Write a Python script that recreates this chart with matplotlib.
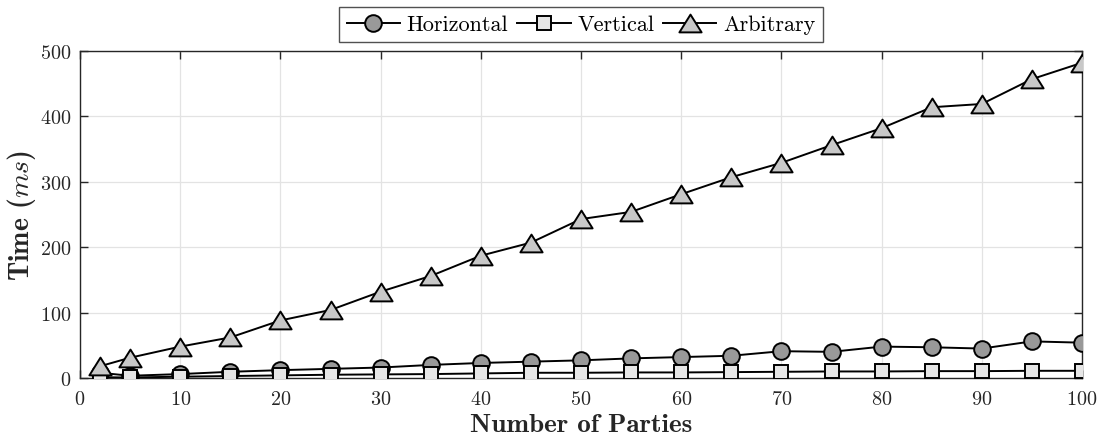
import matplotlib
matplotlib.use("Agg")
import matplotlib.pyplot as plt
from matplotlib.path import Path

# Number of parties and measured running times (ms)
parties = [2, 5, 10, 15, 20, 25, 30, 35, 40, 45, 50, 55, 60, 65, 70, 75, 80, 85, 90, 95, 100]
horizontal = [8, 3.4, 6, 9.5, 12, 14, 16, 20, 23, 25, 27, 30, 32, 34, 41, 40, 48, 47, 45, 56, 54]
vertical = [1.2, 0.8, 2, 3, 4, 5, 5.5, 6, 7, 8, 8, 8.5, 8.5, 9, 9.5, 10, 10, 10.5, 10.5, 11, 11]
arbitrary = [18, 31, 48, 62, 88, 104, 132, 156, 187, 207, 243, 254, 281, 307, 329, 356, 382, 414, 419, 457, 482]

xticks = list(range(0, 101, 10))
yticks = list(range(0, 501, 100))

plt.rcParams["mathtext.fontset"] = "cm"
plt.rcParams["axes.formatter.use_mathtext"] = True
plt.rcParams["font.family"] = "cmr10"

# wide, flat triangle marker
tri = Path([(-1.0, -0.8), (1.0, -0.8), (0.0, 0.8), (-1.0, -0.8)],
           [Path.MOVETO, Path.LINETO, Path.LINETO, Path.CLOSEPOLY])

fig = plt.figure(figsize=(11.04, 4.39), dpi=100)
ax = fig.add_axes([80 / 1104, 1 - 379 / 439, (1082 - 80) / 1104, (379 - 52) / 439])

common = dict(color="black", lw=1.4, mec="black", mew=1.4)
ax.plot(parties, horizontal, marker="o", ms=12, mfc="#999999", label="Horizontal", zorder=3, **common)
ax.plot(parties, vertical, marker="s", ms=10, mfc="#e6e6e6", label="Vertical", zorder=4, **common)
ax.plot(parties, arbitrary, marker=tri, ms=16, mfc="#c8c8c8", label="Arbitrary", zorder=5, **common)

ax.set_xlim(0, 100)
ax.set_ylim(0, 500)
ax.set_xticks(xticks)
ax.set_yticks(yticks)
ax.grid(True, color="#e3e3e3", lw=0.9)
ax.set_axisbelow(True)
for s in ax.spines.values():
    s.set_color("#262626")
    s.set_linewidth(1.0)
ax.tick_params(direction="in", length=6, width=1.0, color="#262626",
               labelsize=14.5, labelcolor="#262626", top=True, right=True)
ax.tick_params(axis="x", pad=9)
ax.tick_params(axis="y", pad=6)
for lab in ax.get_xticklabels() + ax.get_yticklabels():
    lab.set_fontfamily("cmr10")

ax.set_xlabel("Number of Parties", fontfamily="cmb10", fontsize=19.5, color="#262626", labelpad=3)
ax.set_ylabel(r"Time ($ms$)", fontfamily="cmb10", fontsize=20, color="#262626", labelpad=2)

leg = ax.legend(loc="lower center", bbox_to_anchor=(0.5, 1.027), ncol=3, frameon=True,
                fancybox=False, edgecolor="#262626", fontsize=16, handlelength=2.4,
                handletextpad=0.3, columnspacing=0.4, borderpad=0.35, borderaxespad=0.0)
leg.get_frame().set_linewidth(1.0)

fig.savefig("out.png", dpi=100)
